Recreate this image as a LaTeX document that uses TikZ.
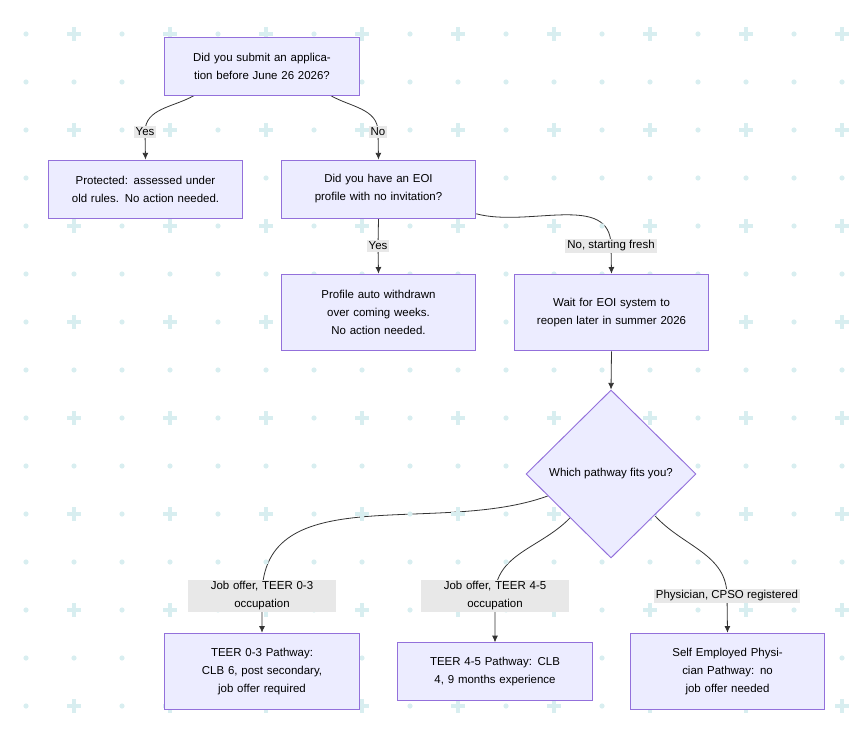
\documentclass[tikz,border=0pt]{standalone}
\usepackage{fontspec}
\setmainfont{Liberation Sans}
\usetikzlibrary{shapes.geometric,calc,backgrounds}
\definecolor{boxfill}{HTML}{ECECFF}
\definecolor{boxline}{HTML}{9370DB}
\definecolor{lblfill}{HTML}{E8E8E8}
\definecolor{dotc}{HTML}{D8EEF0}
\definecolor{edgec}{HTML}{333333}
\tikzset{
  box/.style={draw=boxline, fill=boxfill, line width=0.7pt, align=center,
    font=\fontsize{8.6}{13.5}\selectfont, text width=112pt,
    minimum width=146pt, minimum height=43.5pt, inner sep=2pt},
  lbl/.style={fill=lblfill, font=\fontsize{8.6}{13.5}\selectfont, align=center,
    inner sep=1.5pt},
  edge/.style={draw=edgec, line width=0.6pt, -{Latex[length=5pt,width=4.5pt]}},
}
\usetikzlibrary{arrows.meta}
\begin{document}
\begin{tikzpicture}[x=0.75pt,y=-0.75pt]
\useasboundingbox (0,0) rectangle (866,734);
% background grid
\foreach \i in {0,...,17}
  \foreach \j in {0,...,14}{
    \pgfmathtruncatemacro\odd{mod(\i,2)==1 && mod(\j,2)==0}
    \ifnum\odd=1
      \draw[dotc, line width=2.3pt] (26+48*\i-7,34+48*\j) -- ++(14,0)
        (26+48*\i,34+48*\j-7) -- ++(0,14);
    \else
      \fill[dotc] (26+48*\i,34+48*\j) circle (2.6);
    \fi
  }
% boxes
\node[box] (q1) at (262,66) {Did you submit an application before June 26 2026?};
\node[box, minimum height=43.5pt] (prot) at (145.5,189) {Protected: assessed under old rules. No action needed.};
\node[box] (q2) at (378.5,189) {Did you have an EOI profile with no invitation?};
\node[box, minimum height=57.5pt] (auto) at (378.5,312.5) {Profile auto withdrawn over coming weeks. No action needed.};
\node[box, minimum height=57.5pt] (wait) at (611.5,312.5) {Wait for EOI system to reopen later in summer 2026};
\node[draw=boxline, fill=boxfill, line width=0.7pt, diamond, minimum width=127.5pt,
  minimum height=126pt, inner sep=0pt, font=\fontsize{8.6}{13.5}\selectfont] (pick) at (611,474) {Which pathway fits you?};
\node[box, minimum height=57.5pt] (t03) at (262,671.5) {TEER 0-3 Pathway: CLB 6, post secondary, job offer required};
\node[box, minimum height=43pt] (t45) at (495,671.5) {TEER 4-5 Pathway: CLB 4, 9 months experience};
\node[box, minimum height=57.5pt] (phys) at (727.5,671.5) {Self Employed Physician Pathway: no job offer needed};
% edge labels
\node[lbl] (yes1) at (145,132) {Yes};
\node[lbl] (no1) at (378,132) {No};
\node[lbl] (yes2) at (378,246) {Yes};
\node[lbl] (no2) at (611,246) {No, starting fresh};
\node[lbl, text width=108pt] (job03) at (262,596) {Job offer, TEER 0-3\\occupation};
\node[lbl, text width=108pt] (job45) at (495,596) {Job offer, TEER 4-5\\occupation};
\node[lbl] (cpso) at (727,596) {Physician, CPSO registered};
% connectors
\begin{scope}[on background layer]
\draw[edge] ([xshift=22.5pt]q1.south west) to[out=-150,in=90] (yes1.center) -- (prot.north);
\draw[edge] ([xshift=-22pt]q1.south east) to[out=-30,in=90] (no1.center) -- (q2.north);
\draw[edge] (q2.south) -- (yes2.center) -- (auto.north);
\draw[edge] ([yshift=3.5pt]q2.south east) to[out=-15,in=90] (no2.center) -- (wait.north);
\draw[edge] (wait.south) -- (pick.north);
\draw[edge] ($(pick.west)!0.26!(pick.south)$) to[out=-160,in=90] (job03.center) to[out=-90,in=90] (t03.north);
\draw[edge] ($(pick.west)!0.52!(pick.south)$) to[out=-134,in=90] (job45.center) to[out=-90,in=90] (t45.north);
\draw[edge] ($(pick.east)!0.49!(pick.south)$) to[out=-48,in=90] (cpso.center) -- (phys.north);
\end{scope}
\end{tikzpicture}
\end{document}
